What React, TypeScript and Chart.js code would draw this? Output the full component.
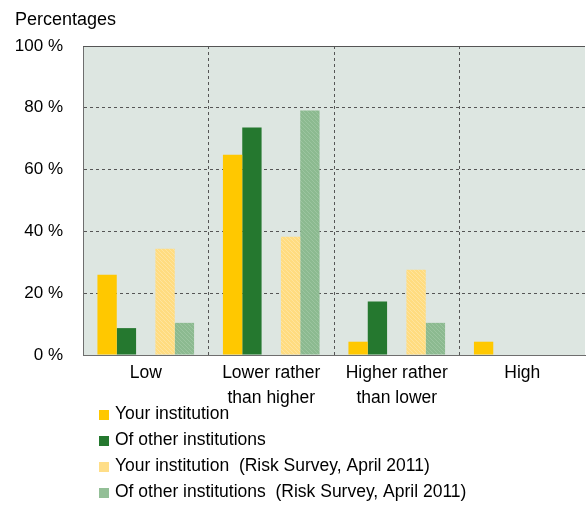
import { useEffect, useRef } from "react";
import { Chart, registerables } from "chart.js";

Chart.register(...registerables);

// Categories (multi-line tick labels)
const categories: string[][] = [
  ["Low"],
  ["Lower rather", "than higher"],
  ["Higher rather", "than lower"],
  ["High"],
];

// Series values, in percent
const yourInstitution = [26, 64.8, 4.3, 4.3];
const otherInstitutions = [8.7, 73.6, 17.3, 0];
const yourInstitution2011 = [34.4, 38.3, 27.6, 0];
const otherInstitutions2011 = [10.4, 79.1, 10.4, 0];

const seriesLabels = [
  "Your institution",
  "Of other institutions",
  "Your institution  (Risk Survey, April 2011)",
  "Of other institutions  (Risk Survey, April 2011)",
];

const yTickStep = 20;
const yMax = 100;

const FONT = "'Liberation Sans', Arial, Helvetica, sans-serif";

function hatch(base: string, stripe: string): CanvasPattern | string {
  const c = document.createElement("canvas");
  c.width = 4;
  c.height = 4;
  const g = c.getContext("2d");
  if (!g) return base;
  g.fillStyle = base;
  g.fillRect(0, 0, 4, 4);
  g.strokeStyle = stripe;
  g.lineWidth = 1;
  g.beginPath();
  g.moveTo(-1, -1);
  g.lineTo(5, 5);
  g.stroke();
  return g.createPattern(c, "repeat") || base;
}

export default function App() {
  const ref = useRef<HTMLCanvasElement | null>(null);

  useEffect(() => {
    if (!ref.current) return;

    const colors: (string | CanvasPattern)[] = [
      "#ffc800",
      "#25782f",
      hatch("#ffdc80", "#ffe49e"),
      hatch("#8cba90", "#9cc5a0"),
    ];
    const swatch = ["#ffc800", "#25782f", "#ffde88", "#93bf97"];

    const decor = {
      id: "decor",
      beforeDraw(chart: Chart) {
        const { ctx, chartArea: a } = chart;
        ctx.save();
        ctx.fillStyle = "#dde6e1";
        ctx.fillRect(a.left, a.top, a.right - a.left, a.bottom - a.top);
        ctx.restore();
      },
      afterDraw(chart: Chart) {
        const { ctx, chartArea: a } = chart;
        ctx.save();
        // solid top frame line
        ctx.strokeStyle = "#555";
        ctx.lineWidth = 1;
        ctx.beginPath();
        ctx.moveTo(a.left, Math.round(a.top) + 0.5);
        ctx.lineTo(a.right, Math.round(a.top) + 0.5);
        ctx.stroke();

        // axis title
        ctx.fillStyle = "#000";
        ctx.font = `18px ${FONT}`;
        ctx.textBaseline = "middle";
        ctx.textAlign = "left";
        ctx.fillText("Percentages", 15, 20);

        // legend, one entry per row
        ctx.font = `17.5px ${FONT}`;
        seriesLabels.forEach((label, i) => {
          const cy = 414 + i * 26;
          ctx.fillStyle = swatch[i];
          ctx.fillRect(99, cy - 4, 10, 10);
          ctx.fillStyle = "#000";
          ctx.fillText(label, 115, cy);
        });
        ctx.restore();
      },
    };

    const series = [yourInstitution, otherInstitutions, null, yourInstitution2011, otherInstitutions2011];
    let k = 0;
    const datasets = series.map((d) => {
      if (!d) {
        return { label: "", data: categories.map(() => null), backgroundColor: "transparent" };
      }
      const i = k++;
      return { label: seriesLabels[i], data: d, backgroundColor: colors[i] as any, borderWidth: 0 };
    });

    const chart = new Chart(ref.current, {
      type: "bar",
      data: { labels: categories as any, datasets: datasets as any },
      plugins: [decor],
      options: {
        animation: false,
        responsive: true,
        maintainAspectRatio: false,
        layout: { padding: { top: 46, right: 1, left: 0, bottom: 0 } },
        datasets: { bar: { categoryPercentage: 0.77, barPercentage: 1 } },
        plugins: { legend: { display: false }, tooltip: { enabled: false }, title: { display: false } },
        scales: {
          x: {
            grid: {
              offset: true,
              // the closing line past the last category is left out
              color: (c: any) => (c.tick ? "#555" : "rgba(0,0,0,0)"),
              drawTicks: false,
              lineWidth: 1,
            },
            border: { display: true, color: "#6e6e6e", width: 1, dash: [3, 3] },
            ticks: {
              color: "#000",
              padding: 6,
              maxRotation: 0,
              autoSkip: false,
              font: { family: FONT, size: 17.5, lineHeight: 1.43 },
            },
            afterFit(s: any) {
              s.height = 150;
            },
          },
          y: {
            min: 0,
            max: yMax,
            grid: { color: "#555", drawTicks: false, lineWidth: 1 },
            border: { display: true, color: "#6e6e6e", width: 1, dash: [3, 3] },
            ticks: {
              stepSize: yTickStep,
              color: "#000",
              padding: 20,
              font: { family: FONT, size: 17 },
              callback: (v: any) => `${v} %`,
            },
            afterFit(s: any) {
              s.width = 83;
            },
          },
        },
      },
    });
    return () => chart.destroy();
  }, []);

  return (
    <div style={{ position: "absolute", left: 0, top: 0, width: 586, height: 505, background: "#fff" }}>
      <canvas ref={ref} />
    </div>
  );
}
